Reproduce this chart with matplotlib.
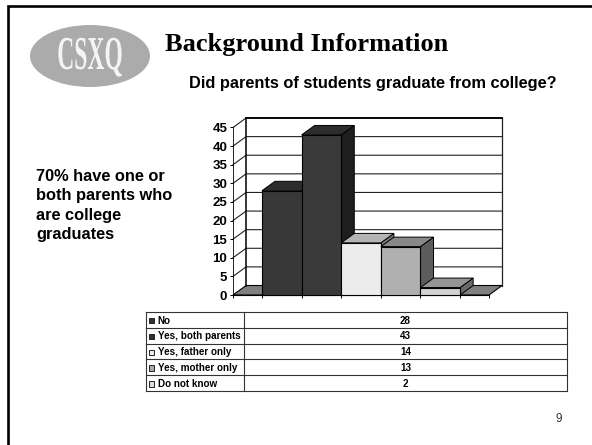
import matplotlib
matplotlib.use("Agg")
import matplotlib.pyplot as plt
from matplotlib.patches import Ellipse, Polygon, Rectangle
from matplotlib.patheffects import AbstractPathEffect
from matplotlib.transforms import Affine2D

categorias = ["No", "Yes, both parents", "Yes, father only", "Yes, mother only", "Do not know"]
valores = [28, 43, 14, 13, 2]
yticks = [0, 5, 10, 15, 20, 25, 30, 35, 40, 45]
cor_frente = ["#383838", "#3a3a3a", "#ececec", "#b0b0b0", "#d2d2d2"]
cor_topo = ["#2c2c2c", "#2c2c2c", "#b4b4b4", "#888888", "#959595"]
cor_lado = ["#1e1e1e", "#1e1e1e", "#777777", "#5c5c5c", "#6a6a6a"]
legenda = ["#333333", "#333333", "#eeeeee", "#aaaaaa", "#dddddd"]
texto_lado = ["70% have one or", "both parents who", "are college", "graduates"]

W, H = 592, 445
dx, dy = 0.33, 2.55  # profundidade do 3D


class Squeeze(AbstractPathEffect):
    # estreita o texto em torno de cx (logo com fonte condensada)
    def __init__(self, cx, sx):
        super().__init__()
        self.cx, self.sx = cx, sx

    def draw_path(self, renderer, gc, tpath, affine, rgbFace=None):
        t = affine + Affine2D().translate(-self.cx, 0).scale(self.sx, 1).translate(self.cx, 0)
        renderer.draw_path(gc, tpath, t, rgbFace)


fig = plt.figure(figsize=(W / 100, H / 100), dpi=100, facecolor="white")

# camada da pagina em pixels
pg = fig.add_axes([0, 0, 1, 1])
pg.set_xlim(0, W)
pg.set_ylim(H, 0)
pg.axis("off")
pg.plot([8, 8, W], [H, 5.5, 5.5], color="black", lw=1.9, solid_joinstyle="miter")

pg.add_patch(Ellipse((90, 56), 120, 62, color="#ababab", lw=0))
cx = pg.transData.transform((90, 56))[0]
pg.text(90, 58, "CSXQ", family="Liberation Serif", weight="bold", fontsize=34, color="#f4f4f4",
        ha="center", va="center", path_effects=[Squeeze(cx, 0.5)])

pg.text(165, 45, "Background Information", family="Liberation Serif", weight="bold",
        fontsize=19, color="black", va="center")
pg.text(189, 83.5, "Did parents of students graduate from college?", family="Liberation Sans",
        weight="bold", fontsize=11.8, va="center")
for i, linha in enumerate(texto_lado):
    pg.text(36.5, 176.5 + i * 19.4, linha, family="Liberation Sans", weight="bold",
            fontsize=11.8, va="center")
pg.text(559, 419, "9", family="Liberation Sans", fontsize=8.5, color="#333333",
        ha="center", va="center")

# tabela
topo, alt = 312, 15.8
x0t, x1t, x2t = 146, 244, 567
n = len(categorias)
for i in range(n + 1):
    pg.plot([x0t, x2t], [topo + i * alt] * 2, color="#333333", lw=0.8)
for x in [x0t, x1t, x2t]:
    pg.plot([x, x], [topo, topo + n * alt], color="#333333", lw=0.8)
for i, (nome, v) in enumerate(zip(categorias, valores)):
    yc = topo + (i + 0.55) * alt
    pg.add_patch(Rectangle((148.5, yc - 2.7), 5.4, 5.4, fc=legenda[i], ec="#222222", lw=0.7))
    pg.text(157.5, yc, nome, family="Liberation Sans", weight="bold", fontsize=7.1, va="center")
    pg.text(405.5, yc, str(v), family="Liberation Sans", weight="bold", fontsize=7.1,
            ha="center", va="center")

# grafico
ax = fig.add_axes([233 / W, 1 - 295 / H, 256 / W, 167.5 / H])
ax.patch.set_alpha(0)
esq, dir = -0.5 - 0.73, n - 0.5 + 0.73
ax.set_xlim(esq, dir)
ax.set_ylim(0, 45)

# chao
ax.add_patch(Polygon([(esq, 0), (dir, 0), (dir + dx, dy), (esq + dx, dy)], closed=True,
                     fc="#808080", ec="black", lw=0.8, clip_on=False, zorder=1))
# paredes
for y in yticks[1:]:
    ax.plot([esq, esq + dx, dir + dx], [y, y + dy, y + dy], color="#222222", lw=0.8,
            clip_on=False, zorder=1)
ax.plot([esq + dx, esq + dx], [dy, 45 + dy], color="black", lw=1.1, clip_on=False, zorder=1)
ax.plot([dir + dx, dir + dx], [dy, 45 + dy], color="#222222", lw=0.9, clip_on=False, zorder=1)
ax.plot([esq + dx, dir + dx], [45 + dy, 45 + dy], color="black", lw=1.3, clip_on=False, zorder=1)

# barras da esquerda para a direita
for i, v in enumerate(valores):
    a, b = i - 0.5, i + 0.5
    ax.add_patch(Polygon([(b, 0), (b + dx, dy), (b + dx, v + dy), (b, v)], closed=True,
                         fc=cor_lado[i], ec="black", lw=0.7, clip_on=False, zorder=3))
    ax.add_patch(Polygon([(a, v), (b, v), (b + dx, v + dy), (a + dx, v + dy)], closed=True,
                         fc=cor_topo[i], ec="black", lw=0.7, clip_on=False, zorder=3))
    ax.add_patch(Rectangle((a, 0), 1, v, fc=cor_frente[i], ec="black", lw=0.8,
                           clip_on=False, zorder=3))

for lado in ["top", "right"]:
    ax.spines[lado].set_visible(False)
ax.spines["left"].set_linewidth(0.6)
ax.spines["bottom"].set_linewidth(0.8)
ax.set_xticks([esq] + [i - 0.5 for i in range(n + 1)] + [dir])
ax.set_xticklabels([])
ax.set_yticks(yticks)
ax.set_yticklabels([str(y) for y in yticks], family="Liberation Sans", weight="bold", fontsize=9.5)
ax.tick_params(axis="both", length=2.2, width=0.7, pad=2)

fig.savefig("out.png", dpi=100)
plt.close(fig)
